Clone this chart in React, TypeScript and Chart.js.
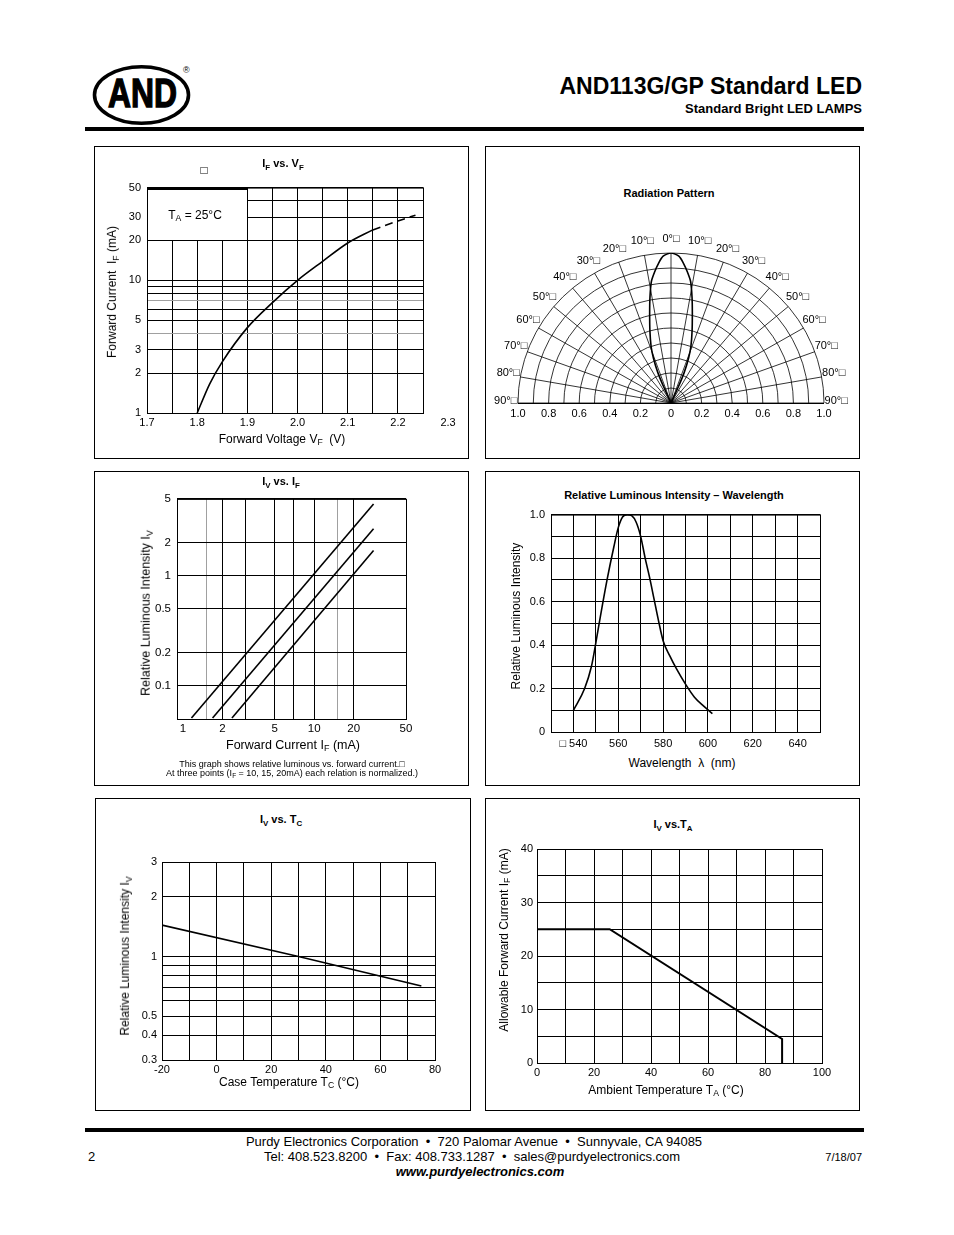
import React, { useEffect, useRef } from "react";
import { Chart, registerables } from "chart.js";

Chart.register(...registerables);

const FONT = '"Liberation Sans", Arial, Helvetica, sans-serif';
Chart.defaults.font.family = FONT;
Chart.defaults.font.size = 11;
Chart.defaults.color = "#000";

// ---------------- data ----------------
// Chart 1: IF vs VF
const vfSolidVolt = [1.8, 1.825, 1.85, 1.9, 1.95, 2.0, 2.05, 2.1, 2.15];
const vfSolidCurr = [1.0, 1.66, 2.43, 4.4, 6.8, 10, 13.9, 19.1, 24];
const vfDashVolt = [2.15, 2.2, 2.235];
const vfDashCurr = [24, 28, 31];
const vfGridVolt = [1.7, 1.75, 1.8, 1.85, 1.9, 1.95, 2.0, 2.05, 2.1, 2.15, 2.2, 2.25];
const vfLabelVolt = [1.7, 1.8, 1.9, 2.0, 2.1, 2.2, 2.3];
const vfGridCurr = [1, 2, 3, 4, 5, 6, 7, 8, 9, 10, 20, 30, 40, 50];
const vfLabelCurr = [1, 2, 3, 5, 10, 20, 30, 50];
const vfLightCurr = [4, 7];
const vfBoxVolt = [1.7, 1.9];
const vfBoxCurr = [20, 50];

// Chart 2: radiation pattern (angle in degrees, relative intensity)
const radAngleDeg = [-25, -24, -23, -21, -19, -16, -13, -11, -9, -7, -5, -3, 0, 3, 5, 7, 9, 11, 13, 16, 19, 21, 23, 24, 25];
const radIntensity = [0, 0.12, 0.22, 0.32, 0.4, 0.5, 0.62, 0.72, 0.82, 0.88, 0.935, 0.98, 1.0, 0.98, 0.935, 0.88, 0.82, 0.72, 0.62, 0.5, 0.4, 0.32, 0.22, 0.12, 0];
const radRings = [0.1, 0.2, 0.3, 0.4, 0.5, 0.6, 0.7, 0.8, 0.9, 1.0];
const radSpokes = [-90, -80, -70, -60, -50, -40, -30, -20, -10, 0, 10, 20, 30, 40, 50, 60, 70, 80, 90];
const radTickValues = [-1, -0.8, -0.6, -0.4, -0.2, 0, 0.2, 0.4, 0.6, 0.8, 1];

// Chart 3: IV vs IF
const ivCurrA = [1.16, 28.3];
const ivRelA = [0.051, 4.5];
const ivCurrB = [1.68, 28.3];
const ivRelB = [0.051, 2.68];
const ivCurrC = [2.36, 28.3];
const ivRelC = [0.051, 1.7];
const ivGridCurr = [1, 1.5, 2, 3, 5, 7, 10, 15, 20, 50];
const ivLabelCurr = [1, 2, 5, 10, 20, 50];
const ivLightCurr = [1.5, 15];
const ivHiddenCurr = [1];
const ivGridRel = [0.1, 0.2, 0.5, 1, 2, 5];
const ivLabelRel = [0.1, 0.2, 0.5, 1, 2, 5];

// Chart 4: relative luminous intensity vs wavelength
const wlNm = [540, 545, 548, 550, 552, 555, 558, 560, 562, 564, 566, 568, 570, 572, 574, 576, 578, 580, 583, 586, 590, 594, 598, 602];
const wlRel = [0.1, 0.2, 0.3, 0.41, 0.53, 0.7, 0.85, 0.94, 0.99, 1.0, 0.995, 0.965, 0.9, 0.8, 0.71, 0.61, 0.51, 0.42, 0.35, 0.29, 0.22, 0.16, 0.12, 0.085];
const wlGridNm = [530, 540, 550, 560, 570, 580, 590, 600, 610, 620, 630, 640, 650];
const wlLabelNm = [540, 560, 580, 600, 620, 640];
const wlGridRel = [0, 0.1, 0.2, 0.3, 0.4, 0.5, 0.6, 0.7, 0.8, 0.9, 1.0];
const wlLabelRel = [0, 0.2, 0.4, 0.6, 0.8, 1.0];

// Chart 5: IV vs TC
const tcTemp = [-20, 30, 75];
const tcRel = [1.44, 1.0, 0.71];
const tcGridTemp = [-20, -10, 0, 10, 20, 30, 40, 50, 60, 70, 80];
const tcLabelTemp = [-20, 0, 20, 40, 60, 80];
const tcGridRel = [0.3, 0.4, 0.5, 0.6, 0.7, 0.8, 0.9, 1, 2, 3];
const tcLabelRel = [0.3, 0.4, 0.5, 1, 2, 3];

// Chart 6: allowable IF vs TA
const taTemp = [0, 25.5, 86, 86];
const taCurr = [25, 25, 4.5, 0];
const taGridTemp = [0, 10, 20, 30, 40, 50, 60, 70, 80, 90, 100];
const taLabelTemp = [0, 20, 40, 60, 80, 100];
const taGridCurr = [0, 5, 10, 15, 20, 25, 30, 35, 40];
const taLabelCurr = [0, 10, 20, 30, 40];

// ---------------- helpers ----------------
type Box = { l: number; t: number; r: number; b: number };

const pts = (xs: number[], ys: number[]) => xs.map((x, i) => ({ x, y: ys[i] }));
const fmt1 = (v: number) => (v === 0 ? "0" : v.toFixed(1));

function lineDs(data: any[], width = 1.5, extra: any = {}) {
  return { data, showLine: true, fill: false, borderColor: "#000", borderWidth: width, pointRadius: 0, ...extra };
}

function axis(type: string, min: number, max: number, gridVals: number[], labelFn: (v: number) => string, opts: any = {}) {
  return {
    type,
    min,
    max,
    afterBuildTicks: (s: any) => {
      s.ticks = gridVals.map((v) => ({ value: v }));
    },
    border: { display: false },
    grid: {
      display: opts.grid ?? true,
      drawTicks: false,
      color: opts.gridColor ?? "#000",
      lineWidth: 1,
    },
    ticks: {
      display: opts.ticks ?? true,
      autoSkip: false,
      maxRotation: 0,
      minRotation: 0,
      padding: opts.padding ?? 4,
      font: { size: opts.size ?? 11, family: FONT },
      color: "#000",
      callback: (v: any) => labelFn(Number(v)),
    },
  };
}

const framePlugin = {
  id: "frame",
  beforeDatasetsDraw(chart: any) {
    const { ctx, chartArea: a } = chart;
    ctx.save();
    ctx.strokeStyle = "#000";
    ctx.lineWidth = 1;
    ctx.strokeRect(a.left + 0.5, a.top + 0.5, a.right - a.left, a.bottom - a.top);
    ctx.restore();
  },
};

function PlotCanvas({ plot, pad, build }: { plot: Box; pad: Box; build: () => any }) {
  const ref = useRef<HTMLCanvasElement | null>(null);
  const w = plot.r - plot.l + pad.l + pad.r;
  const h = plot.b - plot.t + pad.t + pad.b;
  useEffect(() => {
    const cfg = build();
    cfg.options = {
      responsive: false,
      maintainAspectRatio: false,
      animation: false,
      events: [],
      layout: { padding: { top: pad.t, right: pad.r, left: 0, bottom: 0 } },
      plugins: { legend: { display: false }, tooltip: { enabled: false }, title: { display: false } },
      ...cfg.options,
    };
    cfg.options.scales.x.afterFit = (s: any) => {
      s.height = pad.b;
    };
    cfg.options.scales.y.afterFit = (s: any) => {
      s.width = pad.l;
    };
    const chart = new Chart(ref.current as HTMLCanvasElement, cfg);
    return () => chart.destroy();
  }, []);
  return (
    <canvas
      ref={ref}
      width={w}
      height={h}
      style={{ position: "absolute", left: plot.l - pad.l, top: plot.t - pad.t, width: w, height: h }}
    />
  );
}

function T({ x, y, size = 12, bold = false, italic = false, rotate = 0, align = "center", children }: any) {
  const tr = align === "center" ? "translate(-50%,-50%)" : align === "right" ? "translate(-100%,-50%)" : "translate(0,-50%)";
  return (
    <div
      style={{
        position: "absolute",
        left: x,
        top: y,
        transform: tr + (rotate ? ` rotate(${rotate}deg)` : ""),
        fontSize: size,
        fontWeight: bold ? 700 : 400,
        fontStyle: italic ? "italic" : "normal",
        whiteSpace: "nowrap",
        lineHeight: 1,
        fontFamily: FONT,
        color: "#000",
      }}
    >
      {children}
    </div>
  );
}

const S = ({ children }: any) => <span style={{ fontSize: "0.72em", verticalAlign: "-0.3em" }}>{children}</span>;

function Panel({ l, t, r, b }: Box) {
  return (
    <div
      style={{
        position: "absolute",
        left: l,
        top: t,
        width: r - l + 1,
        height: b - t + 1,
        border: "1px solid #000",
        boxSizing: "border-box",
      }}
    />
  );
}

// ---------------- chart builders ----------------
const C1_PLOT: Box = { l: 147, t: 187, r: 423, b: 413 };
const C1_PAD: Box = { l: 34, t: 12, r: 36, b: 22 };

const taBoxPlugin = {
  id: "taBox",
  beforeDatasetsDraw(chart: any) {
    const { ctx } = chart;
    const xs = chart.scales.x;
    const ys = chart.scales.y;
    const x0 = Math.round(xs.getPixelForValue(vfBoxVolt[0]));
    const x1 = Math.round(xs.getPixelForValue(vfBoxVolt[1]));
    const y0 = Math.round(ys.getPixelForValue(vfBoxCurr[1]));
    const y1 = Math.round(ys.getPixelForValue(vfBoxCurr[0]));
    ctx.save();
    ctx.fillStyle = "#fff";
    ctx.fillRect(x0 + 1, y0 + 1, x1 - x0 - 1, y1 - y0 - 1);
    ctx.strokeStyle = "#000";
    ctx.lineWidth = 2;
    ctx.beginPath();
    ctx.moveTo(x0, y0 + 1);
    ctx.lineTo(x1 + 1, y0 + 1);
    ctx.stroke();
    ctx.restore();
  },
};

const vfXLabelPlugin = {
  id: "vfXLabels",
  afterDraw(chart: any) {
    const { ctx } = chart;
    const xs = chart.scales.x;
    const y = chart.chartArea.bottom + 10;
    ctx.save();
    ctx.font = `11px ${FONT}`;
    ctx.fillStyle = "#000";
    ctx.textAlign = "center";
    ctx.textBaseline = "middle";
    vfLabelVolt.forEach((v) => ctx.fillText(v.toFixed(1), xs.getPixelForValue(v), y));
    ctx.restore();
  },
};

const buildC1 = () => ({
  type: "scatter",
  data: {
    datasets: [
      lineDs(pts(vfSolidVolt, vfSolidCurr), 1.6, { cubicInterpolationMode: "monotone" }),
      lineDs(pts(vfDashVolt, vfDashCurr), 1.6, { cubicInterpolationMode: "monotone", borderDash: [8, 5] }),
    ],
  },
  options: {
    scales: {
      x: axis("linear", 1.7, 2.25, vfGridVolt, () => "", { ticks: false }),
      y: axis("logarithmic", 1, 50, vfGridCurr, (v) => (vfLabelCurr.includes(v) ? String(v) : ""), {
        padding: 6,
        gridColor: (c: any) => (vfLightCurr.includes(c.tick?.value) ? "#a0a0a0" : "#000"),
      }),
    },
  },
  plugins: [taBoxPlugin, framePlugin, vfXLabelPlugin],
});

const C2_PLOT: Box = { l: 518, t: 253, r: 824, b: 403 };
const C2_PAD: Box = { l: 40, t: 30, r: 40, b: 22 };

const polarGridPlugin = {
  id: "polarGrid",
  beforeDatasetsDraw(chart: any) {
    const { ctx } = chart;
    const xs = chart.scales.x;
    const ys = chart.scales.y;
    const cx = xs.getPixelForValue(0);
    const cy = ys.getPixelForValue(0);
    ctx.save();
    ctx.strokeStyle = "#000";
    ctx.lineWidth = 0.8;
    radRings.forEach((r) => {
      const rx = xs.getPixelForValue(r) - cx;
      const ry = cy - ys.getPixelForValue(r);
      ctx.beginPath();
      ctx.ellipse(cx, cy, rx, ry, 0, Math.PI, 2 * Math.PI);
      ctx.stroke();
    });
    radSpokes.forEach((a) => {
      const t = (a * Math.PI) / 180;
      ctx.beginPath();
      ctx.moveTo(cx, cy);
      ctx.lineTo(xs.getPixelForValue(Math.sin(t)), ys.getPixelForValue(Math.cos(t)));
      ctx.stroke();
    });
    ctx.lineWidth = 1;
    ctx.beginPath();
    ctx.moveTo(xs.getPixelForValue(-1), cy + 0.5);
    ctx.lineTo(xs.getPixelForValue(1), cy + 0.5);
    ctx.stroke();
    ctx.font = `11px ${FONT}`;
    ctx.fillStyle = "#000";
    ctx.textAlign = "center";
    ctx.textBaseline = "middle";
    radSpokes.forEach((a) => {
      const t = (a * Math.PI) / 180;
      const px = xs.getPixelForValue(1.08 * Math.sin(t));
      const py = ys.getPixelForValue(1.08 * Math.cos(t)) - 2;
      ctx.fillText(`${Math.abs(a)}°□`, px, py);
    });
    ctx.restore();
  },
};

const buildC2 = () => ({
  type: "scatter",
  data: {
    datasets: [
      lineDs(
        radAngleDeg.map((a, i) => ({
          x: radIntensity[i] * Math.sin((a * Math.PI) / 180),
          y: radIntensity[i] * Math.cos((a * Math.PI) / 180),
        })),
        1.6,
        { tension: 0.25 }
      ),
    ],
  },
  options: {
    scales: {
      x: axis("linear", -1, 1, radTickValues, (v) => fmt1(Math.abs(v)), { grid: false, padding: 4 }),
      y: axis("linear", 0, 1, [0, 1], () => "", { grid: false, ticks: false }),
    },
  },
  plugins: [polarGridPlugin],
});

const C3_PLOT: Box = { l: 177, t: 498, r: 406, b: 719 };
const C3_PAD: Box = { l: 34, t: 12, r: 20, b: 22 };

const buildC3 = () => ({
  type: "scatter",
  data: {
    datasets: [
      lineDs(pts(ivCurrA, ivRelA), 1.6),
      lineDs(pts(ivCurrB, ivRelB), 1.6),
      lineDs(pts(ivCurrC, ivRelC), 1.6),
    ],
  },
  options: {
    scales: {
      x: axis("logarithmic", 0.9, 50, ivGridCurr, (v) => (ivLabelCurr.includes(v) ? String(v) : ""), {
        padding: 3,
        size: 11.5,
        gridColor: (c: any) =>
          ivHiddenCurr.includes(c.tick?.value) ? "rgba(0,0,0,0)" : ivLightCurr.includes(c.tick?.value) ? "#a0a0a0" : "#000",
      }),
      y: axis("logarithmic", 0.05, 5, ivGridRel, (v) => (ivLabelRel.includes(v) ? String(v) : ""), { padding: 6, size: 11.5 }),
    },
  },
  plugins: [framePlugin],
});

const C4_PLOT: Box = { l: 551, t: 514, r: 820, b: 732 };
const C4_PAD: Box = { l: 34, t: 12, r: 20, b: 22 };

const buildC4 = () => ({
  type: "scatter",
  data: { datasets: [lineDs(pts(wlNm, wlRel), 1.6, { cubicInterpolationMode: "monotone" })] },
  options: {
    scales: {
      x: axis("linear", 530, 650, wlGridNm, (v) => (wlLabelNm.includes(v) ? (v === 540 ? "□ 540" : String(v)) : ""), {
        padding: 5,
      }),
      y: axis("linear", 0, 1, wlGridRel, (v) => (wlLabelRel.includes(v) ? fmt1(v) : ""), { padding: 6 }),
    },
  },
  plugins: [framePlugin],
});

const C5_PLOT: Box = { l: 162, t: 862, r: 435, b: 1060 };
const C5_PAD: Box = { l: 34, t: 12, r: 20, b: 22 };

const buildC5 = () => ({
  type: "scatter",
  data: { datasets: [lineDs(pts(tcTemp, tcRel), 1.6)] },
  options: {
    scales: {
      x: axis("linear", -20, 80, tcGridTemp, (v) => (tcLabelTemp.includes(v) ? String(v) : ""), { padding: 3 }),
      y: axis("logarithmic", 0.3, 3, tcGridRel, (v) => (tcLabelRel.includes(v) ? String(v) : ""), { padding: 5 }),
    },
  },
  plugins: [framePlugin],
});

const C6_PLOT: Box = { l: 537, t: 849, r: 822, b: 1063 };
const C6_PAD: Box = { l: 34, t: 12, r: 22, b: 22 };

const buildC6 = () => ({
  type: "scatter",
  data: { datasets: [lineDs(pts(taTemp, taCurr), 2)] },
  options: {
    scales: {
      x: axis("linear", 0, 100, taGridTemp, (v) => (taLabelTemp.includes(v) ? String(v) : ""), { padding: 3 }),
      y: axis("linear", 0, 40, taGridCurr, (v) => (taLabelCurr.includes(v) ? String(v) : ""), { padding: 4 }),
    },
  },
  plugins: [framePlugin],
});

// ---------------- page ----------------
export default function App() {
  return (
    <div
      style={{
        position: "absolute",
        left: 0,
        top: 0,
        width: 954,
        height: 1235,
        background: "#fff",
        overflow: "hidden",
        fontFamily: FONT,
        color: "#000",
      }}
    >
      {/* header */}
      <svg style={{ position: "absolute", left: 0, top: 0 }} width={954} height={140}>
        <ellipse cx={141.5} cy={95} rx={47} ry={28.3} fill="none" stroke="#000" strokeWidth={3.6} />
        <text
          x={108}
          y={107}
          fontFamily={FONT}
          fontWeight={700}
          fontSize={40}
          textLength={69}
          lengthAdjust="spacingAndGlyphs"
          stroke="#000"
          strokeWidth={1.4}
        >
          AND
        </text>
        <text x={183} y={73} fontFamily={FONT} fontSize={9}>
          ®
        </text>
      </svg>
      <T x={862} y={86} size={23} bold align="right">
        AND113G/GP Standard LED
      </T>
      <T x={862} y={108} size={13} bold align="right">
        Standard Bright LED LAMPS
      </T>
      <div style={{ position: "absolute", left: 85, top: 127, width: 779, height: 4, background: "#000" }} />

      {/* panels */}
      <Panel l={94} t={146} r={468} b={458} />
      <Panel l={485} t={146} r={859} b={458} />
      <Panel l={94} t={471} r={468} b={785} />
      <Panel l={485} t={471} r={859} b={785} />
      <Panel l={95} t={798} r={470} b={1110} />
      <Panel l={485} t={798} r={859} b={1110} />

      {/* charts */}
      <PlotCanvas plot={C1_PLOT} pad={C1_PAD} build={buildC1} />
      <PlotCanvas plot={C2_PLOT} pad={C2_PAD} build={buildC2} />
      <PlotCanvas plot={C3_PLOT} pad={C3_PAD} build={buildC3} />
      <PlotCanvas plot={C4_PLOT} pad={C4_PAD} build={buildC4} />
      <PlotCanvas plot={C5_PLOT} pad={C5_PAD} build={buildC5} />
      <PlotCanvas plot={C6_PLOT} pad={C6_PAD} build={buildC6} />

      {/* chart 1 texts */}
      <T x={204} y={170} size={12}>□</T>
      <T x={283} y={165} size={11} bold>
        I<S>F</S> vs. V<S>F</S>
      </T>
      <T x={195} y={216} size={12}>
        T<S>A</S> = 25°C
      </T>
      <T x={113} y={292} size={12} rotate={-90}>
        Forward Current&nbsp; I<S>F</S> (mA)
      </T>
      <T x={282} y={440} size={12}>
        Forward Voltage V<S>F</S>&nbsp; (V)
      </T>

      {/* chart 2 texts */}
      <T x={669} y={193} size={11} bold>
        Radiation Pattern
      </T>

      {/* chart 3 texts */}
      <T x={281} y={483} size={11} bold>
        I<S>V</S> vs. I<S>F</S>
      </T>
      <T x={147} y={613} size={12.5} rotate={-90}>
        Relative Luminous Intensity I<S>V</S>
      </T>
      <T x={293} y={746} size={12.5}>
        Forward Current I<S>F</S> (mA)
      </T>
      <T x={292} y={764} size={9}>
        This graph shows relative luminous vs. forward current.□
      </T>
      <T x={292} y={774} size={9}>
        At three points (I<S>F</S> = 10, 15, 20mA) each relation is normalized.)
      </T>

      {/* chart 4 texts */}
      <T x={674} y={495} size={11} bold>
        Relative Luminous Intensity – Wavelength
      </T>
      <T x={516} y={616} size={12} rotate={-90}>
        Relative Luminous Intensity
      </T>
      <T x={682} y={763} size={12}>
        Wavelength&nbsp; λ&nbsp; (nm)
      </T>

      {/* chart 5 texts */}
      <T x={281} y={821} size={11} bold>
        I<S>V</S> vs. T<S>C</S>
      </T>
      <T x={126} y={956} size={12} rotate={-90}>
        Relative Luminous Intensity I<S>V</S>
      </T>
      <T x={289} y={1083} size={12}>
        Case Temperature T<S>C</S> (°C)
      </T>

      {/* chart 6 texts */}
      <T x={673} y={826} size={11} bold>
        I<S>V</S> vs.T<S>A</S>
      </T>
      <T x={505} y={940} size={12} rotate={-90}>
        Allowable Forward Current I<S>F</S> (mA)
      </T>
      <T x={666} y={1091} size={12}>
        Ambient Temperature T<S>A</S> (°C)
      </T>

      {/* footer */}
      <div style={{ position: "absolute", left: 85, top: 1128, width: 779, height: 4, background: "#000" }} />
      <T x={474} y={1141} size={13}>
        Purdy Electronics Corporation&nbsp; •&nbsp; 720 Palomar Avenue&nbsp; •&nbsp; Sunnyvale, CA 94085
      </T>
      <T x={472} y={1156} size={13}>
        Tel: 408.523.8200&nbsp; •&nbsp; Fax: 408.733.1287&nbsp; •&nbsp; sales@purdyelectronics.com
      </T>
      <T x={480} y={1171} size={13} bold italic>
        www.purdyelectronics.com
      </T>
      <T x={88} y={1156} size={13} align="left">
        2
      </T>
      <T x={862} y={1157} size={11} align="right">
        7/18/07
      </T>
    </div>
  );
}
